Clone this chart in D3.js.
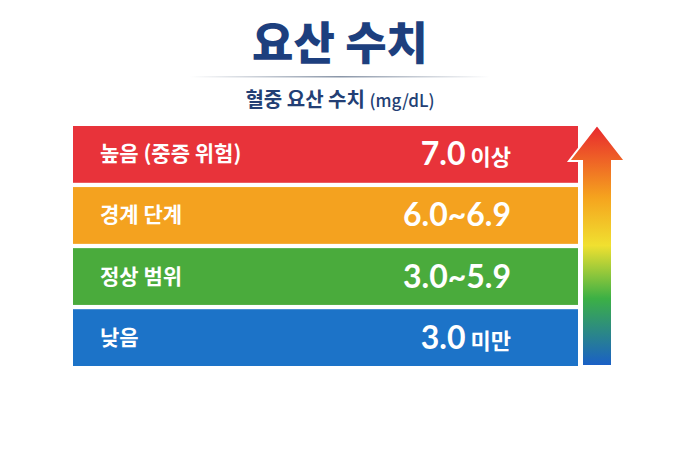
<!DOCTYPE html>
<html><head><meta charset="utf-8">
<script src="https://cdn.jsdelivr.net/npm/d3@7"></script>
<style>body{margin:0;background:#fff;font-family:"Noto Sans CJK KR","Noto Sans",sans-serif}</style>
</head><body><svg id="c" width="700" height="466"></svg>
<script>
const categories = ['높음 (중증 위험)', '경계 단계', '정상 범위', '낮음'];
const lows = [7.0, 6.0, 3.0, null];
const highs = [null, 6.9, 5.9, 3.0];
const suffixes = ['이상', '', '', '미만'];
const colors = ['#e8333a', '#f4a21f', '#4aab3c', '#1c73c8'];

const svg = d3.select('#c');
const defs = svg.append('defs');
let lg = defs.append('linearGradient').attr('id', 'arr').attr('x1', 0).attr('y1', 0).attr('x2', 0).attr('y2', 1);
[['0%', '#e8262e'], ['30%', '#f5a31e'], ['50%', '#f0e030'], ['72%', '#3cb045'], ['100%', '#1a5fc8']]
    .forEach(s => lg.append('stop').attr('offset', s[0]).attr('stop-color', s[1]));
let ln = defs.append('linearGradient').attr('id', 'ln');
[['0%', '#fff'], ['50%', '#8a96a8'], ['100%', '#fff']]
    .forEach(s => ln.append('stop').attr('offset', s[0]).attr('stop-color', s[1]));

svg.append('text').attr('x', 340).attr('y', 60).attr('text-anchor', 'middle')
    .attr('font-size', 45).attr('font-weight', 900).attr('fill', '#1d3f7e').text('요산 수치');
svg.append('rect').attr('x', 190).attr('y', 76).attr('width', 300).attr('height', 1.5).attr('fill', 'url(#ln)');
let sub = svg.append('text').attr('x', 340).attr('y', 107).attr('text-anchor', 'middle')
    .attr('font-weight', 700).attr('fill', '#233f74');
sub.append('tspan').attr('font-size', 20).text('혈중 요산 수치 ');
sub.append('tspan').attr('font-size', 17).attr('font-weight', 500).text('(mg/dL)');

const y = d3.scaleBand().domain(categories).range([126, 366]).paddingInner(0.07);
const x0 = 73, x1 = 578;

const rows = svg.selectAll('g.row').data(categories).enter().append('g').attr('class', 'row');
rows.append('rect').attr('x', x0).attr('y', d => y(d)).attr('width', x1 - x0)
    .attr('height', y.bandwidth()).attr('fill', (d, i) => colors[i]);
rows.append('text').attr('x', 100).attr('y', d => y(d) + y.bandwidth() / 2 + 7)
    .attr('font-size', 21).attr('font-weight', 700).attr('fill', '#fff').text(d => d);
let vt = rows.append('text').attr('x', 511).attr('y', d => y(d) + y.bandwidth() / 2 + 11)
    .attr('text-anchor', 'end').attr('fill', '#fff').attr('font-weight', 700);
vt.append('tspan').attr('font-size', 32).attr('font-family', 'Lato,sans-serif')
    .text((d, i) => lows[i] != null && highs[i] != null
        ? lows[i].toFixed(1) + '~' + highs[i].toFixed(1)
        : (lows[i] != null ? lows[i] : highs[i]).toFixed(1));
vt.append('tspan').attr('font-size', 22).text((d, i) => suffixes[i] ? ' ' + suffixes[i] : '');

// arrow
const ax = 597;
svg.append('path')
    .attr('d', `M${ax},125 L${ax + 28},161 L${ax + 15},161 L${ax + 15},366 L${ax - 15},366 L${ax - 15},161 L${ax - 28},161 Z`)
    .attr('fill', 'url(#arr)').attr('stroke', '#fff').attr('stroke-width', 2);
</script></body></html>
